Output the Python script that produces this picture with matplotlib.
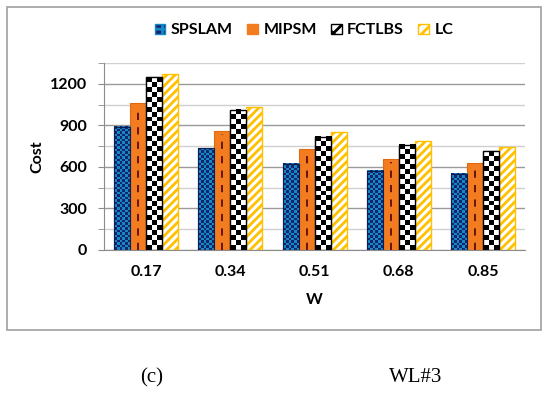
import matplotlib.pyplot as plt
import numpy as np
from matplotlib.patches import Rectangle, Patch
from matplotlib.colors import ListedColormap

plt.rcParams['font.family'] = ['Lato', 'DejaVu Sans']
plt.rcParams['hatch.linewidth'] = 2.0

w_labels = ['0.17', '0.34', '0.51', '0.68', '0.85']
series = ['SPSLAM', 'MIPSM', 'FCTLBS', 'LC']
spslam = [890, 735, 622, 573, 550]
mipsm = [1060, 858, 728, 656, 631]
fctlbs = [1248, 1012, 817, 759, 713]
lc = [1272, 1034, 851, 786, 745]


def checker(ax, bar, ncols, cell_h, c1, c2):
    # checkerboard fill drawn inside the bar's own extent
    x0 = bar.get_x()
    x1 = x0 + bar.get_width()
    h = bar.get_height()
    nrows = max(1, int(round(h / cell_h)))
    img = (np.add.outer(np.arange(nrows), np.arange(ncols)) % 2).astype(float)
    ax.imshow(img, extent=(x0, x1, 0, h), cmap=ListedColormap([c1, c2]),
              interpolation='nearest', aspect='auto', origin='lower', zorder=2.5)


fig = plt.figure(figsize=(5.5, 3.96), dpi=100)
ax = fig.add_axes([0.189, 0.369, 0.766, 0.472])

x = np.arange(len(w_labels))
bw = 0.19
offsets = [-1.5, -0.5, 0.5, 1.5]

b0 = ax.bar(x + offsets[0] * bw, spslam, bw, color='#14266a', edgecolor='#101d50', lw=0.8, zorder=2)
for b in b0:
    checker(ax, b, 6, 18, '#14266a', '#1588c8')
    ax.add_patch(Rectangle((b.get_x(), 0), b.get_width(), b.get_height(), fill=False,
                           edgecolor='#101d50', lw=0.8, zorder=3))

b1 = ax.bar(x + offsets[1] * bw, mipsm, bw, color='#f47c20', edgecolor='#e06a10', lw=0.8, zorder=2)
for b in b1:
    xc = b.get_x() + b.get_width() / 2
    ax.plot([xc, xc], [0, b.get_height() - 20], color='#5a0e0e', lw=1.3,
            linestyle=(0, (4, 4)), zorder=3)

b2 = ax.bar(x + offsets[2] * bw, fctlbs, bw, color='white', edgecolor='black', lw=0.8, zorder=2)
for b in b2:
    checker(ax, b, 3, 36, 'black', 'white')
    ax.add_patch(Rectangle((b.get_x(), 0), b.get_width(), b.get_height(), fill=False,
                           edgecolor='black', lw=1.0, zorder=3))

b3 = ax.bar(x + offsets[3] * bw, lc, bw, color='white', edgecolor='#ffc000', hatch='////',
            lw=1.0, zorder=2)

ax.set_xlim(-0.5, 4.5)
ax.set_ylim(0, 1350)
ax.set_yticks([0, 300, 600, 900, 1200])
ax.set_yticks(np.arange(150, 1351, 300), minor=True)
ax.set_xticks(x)
ax.set_xticklabels(w_labels)
ax.grid(axis='y', which='major', color='#9a9a9a', lw=1.0, zorder=0)
ax.grid(axis='y', which='minor', color='#d0d0d0', lw=1.0, zorder=0)
ax.set_axisbelow(True)
for s in ['top', 'right']:
    ax.spines[s].set_visible(False)
ax.spines['left'].set_color('#8c8c8c')
ax.spines['bottom'].set_color('#8c8c8c')
ax.tick_params(axis='x', length=0, pad=11, labelsize=11.5)
ax.tick_params(axis='y', which='both', length=4, color='#8c8c8c', labelsize=11.5, pad=8)
for lab in ax.get_xticklabels() + ax.get_yticklabels():
    lab.set_fontweight('bold')
ax.set_xlabel('W', fontsize=11.5, fontweight='bold', labelpad=10)
ax.set_ylabel('Cost', fontsize=11.5, fontweight='bold', labelpad=4)

handles = [Patch(facecolor='#14266a', edgecolor='#1588c8', hatch='++'),
           Patch(facecolor='#f47c20', edgecolor='#f47c20'),
           Patch(facecolor='white', edgecolor='black', hatch='xx'),
           Patch(facecolor='white', edgecolor='#ffc000', hatch='///')]
fig.legend(handles, series, loc='center', bbox_to_anchor=(0.553, 0.923), ncol=4,
           frameon=False, handlelength=0.65, handleheight=0.65, columnspacing=0.9,
           handletextpad=0.35, prop={'weight': 'bold', 'size': 11.5})

fig.add_artist(Rectangle((7 / 550, 1 - 330 / 396), 534 / 550, 323 / 396, fill=False,
                         edgecolor='#a0a0a0', lw=1.2, transform=fig.transFigure))

fig.text(152 / 550, 1 - 378 / 396, '(c)', fontsize=15, family='Liberation Serif',
         ha='center', va='center')
fig.text(416 / 550, 1 - 378 / 396, 'WL#3', fontsize=15, family='Liberation Serif',
         ha='center', va='center')

fig.savefig('out.png', dpi=100)
